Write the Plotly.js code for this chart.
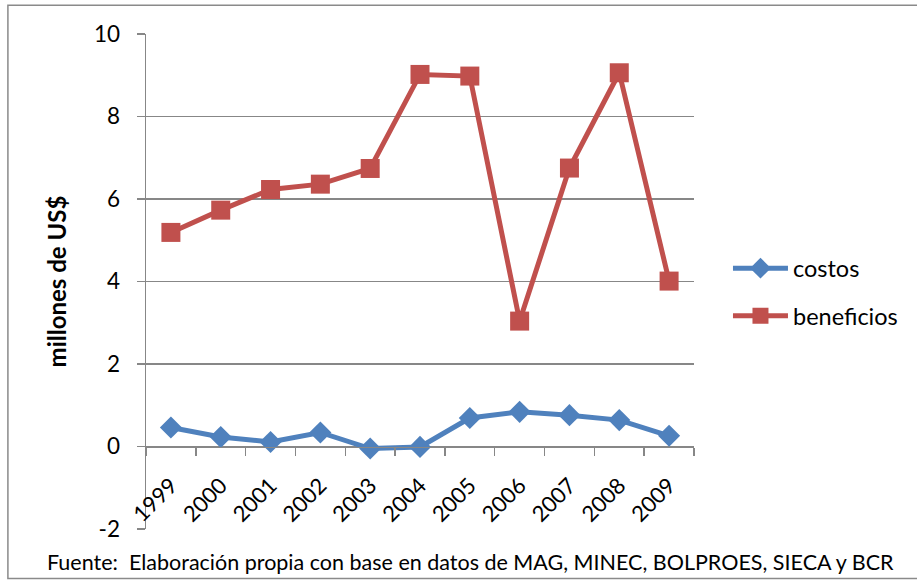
<!DOCTYPE html>
<html>
<head>
<meta charset="utf-8">
<script src="https://cdn.plot.ly/plotly-3.0.1.min.js"></script>
<style>
  html, body { margin: 0; padding: 0; background: #fff; }
  #chart { width: 917px; height: 580px; }
</style>
</head>
<body>
<div id="chart"></div>
<script>
// Costos y beneficios anuales (millones de US$)
const years = ['1999', '2000', '2001', '2002', '2003', '2004', '2005', '2006', '2007', '2008', '2009'];
const costos = [0.46, 0.23, 0.11, 0.34, -0.05, -0.01, 0.69, 0.84, 0.76, 0.64, 0.26];
const beneficios = [5.19, 5.73, 6.23, 6.36, 6.74, 9.02, 8.98, 3.04, 6.75, 9.06, 4.01];
const yTicks = [-2, 0, 2, 4, 6, 8, 10];

const FONT = 'Lato, "Open Sans", sans-serif';
const GRID = '#878787';

const traces = [
  {
    x: years, y: costos, name: 'costos', type: 'scatter', mode: 'lines+markers',
    legendgroup: 'a',
    line: { color: '#4F81BD', width: 5 },
    marker: { symbol: 'diamond', size: 17, color: '#4F81BD' }
  },
  {
    x: years, y: beneficios, name: 'beneficios', type: 'scatter', mode: 'lines+markers',
    legendgroup: 'b',
    line: { color: '#C0504D', width: 5 },
    marker: { symbol: 'square', size: 19, color: '#C0504D' }
  }
];

const layout = {
  width: 917, height: 580,
  margin: { l: 145.7, r: 223, t: 33.5, b: 51 },
  paper_bgcolor: '#fff', plot_bgcolor: '#fff',
  font: { family: FONT, color: '#000', size: 22 },
  showlegend: true,
  legend: {
    x: 1.062, xanchor: 'left', y: 0.478, yanchor: 'middle',
    traceorder: 'grouped', tracegroupgap: 14, itemwidth: 55,
    font: { family: FONT, size: 23.5, color: '#000' },
    bgcolor: 'rgba(0,0,0,0)'
  },
  xaxis: {
    type: 'category', range: [-0.5, 10.5],
    anchor: 'free', position: 2 / 12,
    showgrid: false, zeroline: false,
    showline: true, linecolor: GRID, linewidth: 1.5,
    ticks: 'outside', tickson: 'boundaries', ticklen: 8, tickcolor: GRID, tickwidth: 1.5,
    tickangle: -45, ticklabelstandoff: 16,
    tickfont: { family: FONT, size: 22, color: '#000' }
  },
  yaxis: {
    range: [-2, 10], tickvals: yTicks, ticktext: yTicks.map(String),
    showgrid: true, gridcolor: GRID, gridwidth: 1.5,
    zeroline: false,
    showline: true, linecolor: GRID, linewidth: 1.5,
    ticks: 'outside', ticklen: 8, tickcolor: GRID, tickwidth: 1.5,
    ticklabelstandoff: 12,
    tickfont: { family: FONT, size: 22.5, color: '#000' },
    title: { text: '<b>millones de US$</b>', font: { family: FONT, size: 24, color: '#000' }, standoff: 20 }
  },
  shapes: [
    {
      type: 'rect', xref: 'paper', yref: 'paper',
      x0: -0.252, x1: 1.45, y0: -0.0999, y1: 1.058,
      line: { color: '#8a8a8a', width: 1.5 }, fillcolor: 'rgba(0,0,0,0)', layer: 'below'
    }
  ],
  annotations: [
    {
      xref: 'paper', yref: 'paper', x: 0.593, y: -0.0666,
      xanchor: 'center', yanchor: 'middle', showarrow: false,
      text: 'Fuente:  Elaboración propia con base en datos de MAG, MINEC, BOLPROES, SIECA y BCR',
      font: { family: FONT, size: 21.5, color: '#000' }
    }
  ]
};

Plotly.newPlot('chart', traces, layout, { displayModeBar: false, staticPlot: true });
</script>
</body>
</html>
